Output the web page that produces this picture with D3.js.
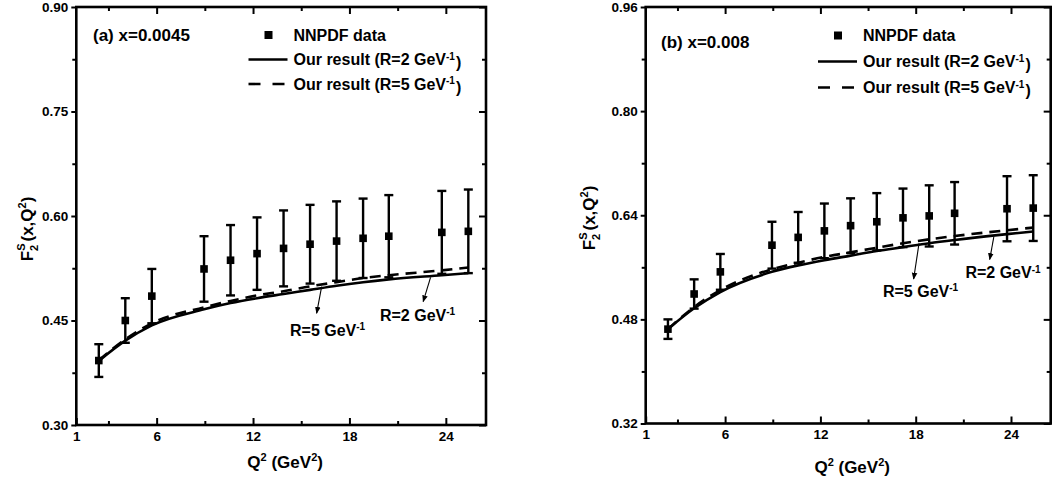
<!DOCTYPE html>
<html>
<head>
<meta charset="utf-8">
<script src="https://cdn.jsdelivr.net/npm/d3@7"></script>
<style>
  html, body { margin: 0; padding: 0; background: #fff; }
  svg { display: block; font-family: "Liberation Sans", Arial, sans-serif; font-weight: bold; }
</style>
</head>
<body>
<svg id="chart" width="1064" height="481"></svg>
<script>
// ---------- data ----------
const q2 = [2.4, 4.05, 5.7, 8.95, 10.6, 12.25, 13.9, 15.55, 17.2, 18.85, 20.45, 23.75, 25.4];

// panel (a) x = 0.0045
const dataA = [0.3925, 0.450, 0.485, 0.524, 0.5365, 0.546, 0.5535, 0.5595, 0.564, 0.568, 0.571, 0.5765, 0.578];
const errA  = [0.0235, 0.032, 0.039, 0.047, 0.0505, 0.052, 0.0545, 0.0565, 0.057, 0.057, 0.059, 0.0595, 0.060];
const solidA  = [0.392, 0.421, 0.443, 0.466, 0.475, 0.482, 0.488, 0.494, 0.500, 0.505, 0.509, 0.515, 0.518];
const dashedA = [0.393, 0.423, 0.446, 0.469, 0.478, 0.486, 0.492, 0.499, 0.505, 0.511, 0.515, 0.522, 0.526];

// panel (b) x = 0.008
const dataB = [0.465, 0.519, 0.553, 0.594, 0.606, 0.616, 0.624, 0.630, 0.636, 0.639, 0.643, 0.650, 0.651];
const errB  = [0.015, 0.0225, 0.0275, 0.036, 0.039, 0.042, 0.042, 0.044, 0.045, 0.047, 0.048, 0.050, 0.0505];
const solidB  = [0.465, 0.497, 0.522, 0.553, 0.563, 0.571, 0.578, 0.585, 0.591, 0.597, 0.602, 0.611, 0.615];
const dashedB = [0.465, 0.499, 0.525, 0.557, 0.567, 0.576, 0.583, 0.590, 0.597, 0.603, 0.608, 0.617, 0.621];

// axes
const xDomain = [1, 26.5];
const xMajorTicks = [1, 6, 12, 18, 24];
const xMinorTicks = [3, 9, 15, 21];
const yDomainA = [0.30, 0.90];
const yMajorA = [0.30, 0.45, 0.60, 0.75, 0.90];
const yMinorA = [0.375, 0.525, 0.675, 0.825];
const yDomainB = [0.32, 0.96];
const yMajorB = [0.32, 0.48, 0.64, 0.80, 0.96];
const yMinorB = [0.40, 0.56, 0.72, 0.88];

// texts
const titles = ["(a) x=0.0045", "(b) x=0.008"];
const legendLabels = ["NNPDF data", "Our result (R=2 GeV", "Our result (R=5 GeV"];

// annotation anchors in data units: [textQ2, textF, arrowFromQ2, arrowFromF, arrowToQ2, arrowToF]
const annotA = [
  {label: "R=5 GeV", tx: 14.3, ty: 0.4364, x1: 16.27, y1: 0.4985, x2: 15.96, y2: 0.4604},
  {label: "R=2 GeV", tx: 19.9, ty: 0.458,  x1: 23.05, y1: 0.512,  x2: 22.59, y2: 0.477}
];
const annotB = [
  {label: "R=5 GeV", tx: 15.94, ty: 0.523, x1: 18.21, y1: 0.597, x2: 17.87, y2: 0.542},
  {label: "R=2 GeV", tx: 21.13, ty: 0.552, x1: 22.92, y1: 0.607, x2: 22.66, y2: 0.572}
];

// ---------- drawing ----------
const svg = d3.select("#chart");
const defs = svg.append("defs");
defs.append("marker")
  .attr("id", "arrow").attr("viewBox", "0 0 10 10")
  .attr("refX", 9).attr("refY", 5)
  .attr("markerWidth", 7).attr("markerHeight", 7)
  .attr("markerUnits", "userSpaceOnUse")
  .attr("orient", "auto")
  .append("path").attr("d", "M0,1 L10,5 L0,9 Z").attr("fill", "#000");

function panel(opt) {
  const {x0, x1, y0, y1, yDomain, yMajor, yMinor, data, err, solid, dashed, annot,
         title, titlePos, legPos, legGap, yLabelPos, xLabelY} = opt;
  const g = svg.append("g");
  const x = d3.scaleLinear().domain(xDomain).range([x0, x1]);
  const y = d3.scaleLinear().domain(yDomain).range([y1, y0]);

  // axes
  const fmt = d3.format(".2f");
  const bottom = g.append("g").attr("transform", `translate(0,${y1})`)
    .call(d3.axisBottom(x).tickValues(xMajorTicks).tickSizeInner(-7).tickSizeOuter(0).tickPadding(6).tickFormat(d3.format("d")));
  g.append("g").attr("transform", `translate(0,${y1})`)
    .call(d3.axisBottom(x).tickValues(xMinorTicks).tickSizeInner(-4).tickSizeOuter(0).tickFormat(""));
  g.append("g").attr("transform", `translate(0,${y0})`)
    .call(d3.axisTop(x).tickValues(xMajorTicks.slice(1)).tickSizeInner(-7).tickSizeOuter(0).tickFormat(""));
  g.append("g").attr("transform", `translate(0,${y0})`)
    .call(d3.axisTop(x).tickValues(xMinorTicks).tickSizeInner(-4).tickSizeOuter(0).tickFormat(""));
  const left = g.append("g").attr("transform", `translate(${x0},0)`)
    .call(d3.axisLeft(y).tickValues(yMajor).tickSizeInner(5).tickSizeOuter(0).tickPadding(3).tickFormat(fmt));
  g.append("g").attr("transform", `translate(${x0},0)`)
    .call(d3.axisLeft(y).tickValues(yMinor).tickSizeInner(4).tickSizeOuter(0).tickFormat(""));
  g.append("g").attr("transform", `translate(${x1},0)`)
    .call(d3.axisRight(y).tickValues(yMajor).tickSizeInner(-7).tickSizeOuter(0).tickFormat(""));
  g.append("g").attr("transform", `translate(${x1},0)`)
    .call(d3.axisRight(y).tickValues(yMinor).tickSizeInner(-4).tickSizeOuter(0).tickFormat(""));

  g.selectAll(".domain").remove();
  g.selectAll(".tick line").attr("stroke", "#000").attr("stroke-width", 2);
  g.selectAll(".tick text").attr("fill", "#000")
    .style("font-family", '"Liberation Sans", Arial, sans-serif')
    .style("font-weight", "bold").style("font-size", "13.5px");

  // frame
  g.append("rect").attr("x", x0).attr("y", y0).attr("width", x1 - x0).attr("height", y1 - y0)
    .attr("fill", "none").attr("stroke", "#000").attr("stroke-width", 2.6);

  // curves
  const pts = (arr) => q2.map((q, i) => [q, arr[i]]);
  const line = d3.line().x(d => x(d[0])).y(d => y(d[1])).curve(d3.curveMonotoneX);
  g.append("path").attr("d", line(pts(solid)))
    .attr("fill", "none").attr("stroke", "#000").attr("stroke-width", 2.6);
  g.append("path").attr("d", line(pts(dashed)))
    .attr("fill", "none").attr("stroke", "#000").attr("stroke-width", 2.6)
    .attr("stroke-dasharray", "11,7");

  // error bars
  const eb = g.append("g");
  q2.forEach((q, i) => {
    const cx = x(q), yt = y(data[i] + err[i]), yb = y(data[i] - err[i]);
    eb.append("line").attr("x1", cx).attr("x2", cx).attr("y1", yt).attr("y2", yb)
      .attr("stroke", "#000").attr("stroke-width", 2.4);
    [yt, yb].forEach(yy => eb.append("line").attr("x1", cx - 4.5).attr("x2", cx + 4.5)
      .attr("y1", yy).attr("y2", yy).attr("stroke", "#000").attr("stroke-width", 2.4));
  });
  g.append("g").selectAll("rect").data(q2).join("rect")
    .attr("x", d => x(d) - 3.8).attr("y", (d, i) => y(data[i]) - 3.8)
    .attr("width", 7.6).attr("height", 7.6).attr("fill", "#000");

  // annotations
  annot.forEach(a => {
    g.append("line").attr("x1", x(a.x1)).attr("y1", y(a.y1)).attr("x2", x(a.x2)).attr("y2", y(a.y2))
      .attr("stroke", "#000").attr("stroke-width", 1.1).attr("marker-end", "url(#arrow)");
    const t = g.append("text").attr("x", x(a.tx)).attr("y", y(a.ty)).attr("dy", "0.35em")
      .style("font-size", "16px");
    t.append("tspan").text(a.label);
    t.append("tspan").attr("dy", "-0.55em").style("font-size", "10px").text("-1");
  });

  // title
  g.append("text").attr("x", titlePos[0]).attr("y", titlePos[1]).attr("dy", "0.35em")
    .style("font-size", "17px").text(title);

  // legend
  const lg = g.append("g");
  const [lx, ly] = legPos;
  lg.append("rect").attr("x", lx + 20 - 4).attr("y", ly - 4).attr("width", 8).attr("height", 8).attr("fill", "#000");
  lg.append("line").attr("x1", lx).attr("x2", lx + 39).attr("y1", ly + legGap).attr("y2", ly + legGap)
    .attr("stroke", "#000").attr("stroke-width", 2.6);
  lg.append("line").attr("x1", lx).attr("x2", lx + 39).attr("y1", ly + 2 * legGap).attr("y2", ly + 2 * legGap)
    .attr("stroke", "#000").attr("stroke-width", 2.6).attr("stroke-dasharray", "12,12");
  legendLabels.forEach((lab, i) => {
    const t = lg.append("text").attr("x", lx + 45).attr("y", ly + i * legGap).attr("dy", "0.35em")
      .style("font-size", "16px");
    t.append("tspan").text(lab);
    if (i > 0) {
      t.append("tspan").attr("dy", "-0.55em").style("font-size", "10px").text("-1");
      t.append("tspan").attr("dy", "0.55em").attr("dx", "1").style("font-size", "16px").text(")");
    }
  });

  // y label
  const yl = g.append("text")
    .attr("transform", `translate(${yLabelPos[0]},${yLabelPos[1]}) rotate(-90)`)
    .attr("text-anchor", "middle").style("font-size", "17px");
  yl.append("tspan").text("F");
  yl.append("tspan").attr("dy", "5").style("font-size", "11px").text("2");
  yl.append("tspan").attr("dx", "-6").attr("dy", "-13").style("font-size", "11px").text("S");
  yl.append("tspan").attr("dx", "2").attr("dy", "8").style("font-size", "17px").text("(x,Q");
  yl.append("tspan").attr("dy", "-7").style("font-size", "11px").text("2");
  yl.append("tspan").attr("dy", "7").style("font-size", "17px").text(")");

  // x label
  const xl = g.append("text").attr("x", (x0 + x1) / 2 + 4).attr("y", xLabelY)
    .attr("text-anchor", "middle").style("font-size", "17px");
  xl.append("tspan").text("Q");
  xl.append("tspan").attr("dy", "-7").style("font-size", "11px").text("2");
  xl.append("tspan").attr("dy", "7").style("font-size", "17px").text(" (GeV");
  xl.append("tspan").attr("dy", "-7").style("font-size", "11px").text("2");
  xl.append("tspan").attr("dy", "7").style("font-size", "17px").text(")");
}

panel({
  x0: 76.3, x1: 486, y0: 7, y1: 425,
  yDomain: yDomainA, yMajor: yMajorA, yMinor: yMinorA,
  data: dataA, err: errA, solid: solidA, dashed: dashedA, annot: annotA,
  title: titles[0], titlePos: [93, 35], legPos: [248.5, 35], legGap: 24.5,
  yLabelPos: [33, 229], xLabelY: 468
});
panel({
  x0: 645.7, x1: 1050.7, y0: 7, y1: 423.5,
  yDomain: yDomainB, yMajor: yMajorB, yMinor: yMinorB,
  data: dataB, err: errB, solid: solidB, dashed: dashedB, annot: annotB,
  title: titles[1], titlePos: [661, 42], legPos: [818, 35.5], legGap: 26,
  yLabelPos: [595, 218], xLabelY: 473
});
</script>
</body>
</html>
